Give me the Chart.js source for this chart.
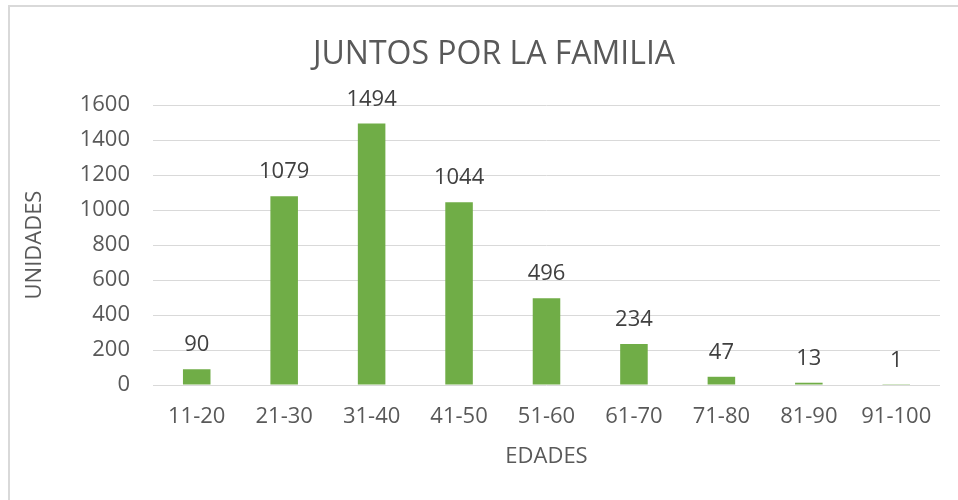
<!DOCTYPE html>
<html>
<head>
<meta charset="utf-8">
<script src="https://cdn.jsdelivr.net/npm/chart.js@4.4.1/dist/chart.umd.min.js"></script>
<style>
  html, body { margin: 0; padding: 0; background: #ffffff; }
  #wrap { position: relative; width: 958px; height: 500px; overflow: hidden; }
  #frame { position: absolute; left: 8px; top: 5px; width: 960px; height: 510px; border: 2px solid #d9d9d9; box-sizing: border-box; }
  canvas { position: absolute; left: 0; top: 0; }
</style>
</head>
<body>
<div id="wrap">
  <div id="frame"></div>
  <canvas id="c" width="958" height="500"></canvas>
</div>
<script>
const categories = ['11-20', '21-30', '31-40', '41-50', '51-60', '61-70', '71-80', '81-90', '91-100'];
const values = [90, 1079, 1494, 1044, 496, 234, 47, 13, 1];
const yTicks = [0, 200, 400, 600, 800, 1000, 1200, 1400, 1600];
const chartTitle = 'JUNTOS POR LA FAMILIA';
const xTitle = 'EDADES';
const yTitle = 'UNIDADES';

const FONT = '"Open Sans", Lato, sans-serif';
const TEXT = '#595959';

const dataLabels = {
  id: 'dataLabels',
  afterDatasetsDraw(chart) {
    const ctx = chart.ctx;
    const meta = chart.getDatasetMeta(0);
    ctx.save();
    ctx.font = '22px ' + FONT;
    ctx.fillStyle = '#404040';
    ctx.textAlign = 'center';
    ctx.textBaseline = 'alphabetic';
    meta.data.forEach((bar, i) => {
      ctx.fillText(String(values[i]), bar.x, bar.y - 18);
    });
    ctx.restore();
  }
};

new Chart(document.getElementById('c'), {
  type: 'bar',
  data: {
    labels: categories,
    datasets: [{
      data: values,
      backgroundColor: '#70ad47',
      borderWidth: 0,
      categoryPercentage: 1,
      barPercentage: 0.315
    }]
  },
  options: {
    responsive: false,
    animation: false,
    devicePixelRatio: 1,
    layout: { padding: { left: 48, right: 18, top: 0, bottom: 0 } },
    plugins: {
      legend: { display: false },
      tooltip: { enabled: false },
      title: {
        display: true,
        text: chartTitle,
        color: TEXT,
        font: { family: FONT, size: 32, weight: 'normal' },
        padding: { top: 36, bottom: 30.6 }
      }
    },
    scales: {
      x: {
        grid: { display: false, drawTicks: false },
        border: { display: false },
        ticks: { color: TEXT, font: { family: FONT, size: 22 }, padding: 19, maxRotation: 0, autoSkip: false },
        title: {
          display: true, text: xTitle, color: TEXT,
          font: { family: FONT, size: 22 },
          padding: { top: 8, bottom: 30 }
        },
        afterFit(scale) { scale.height = 115; }
      },
      y: {
        min: 0, max: 1600,
        afterBuildTicks(scale) { scale.ticks = yTicks.map(v => ({ value: v })); },
        grid: { color: '#d9d9d9', lineWidth: 1, drawTicks: false },
        border: { display: false },
        ticks: { color: TEXT, font: { family: FONT, size: 22 }, padding: 23, callback: v => String(v) },
        title: {
          display: true, text: yTitle, color: TEXT,
          font: { family: FONT, size: 22 },
          padding: { top: -26, bottom: 0 }
        },
        afterFit(scale) { scale.width = 105; }
      }
    }
  },
  plugins: [dataLabels]
});
</script>
</body>
</html>
